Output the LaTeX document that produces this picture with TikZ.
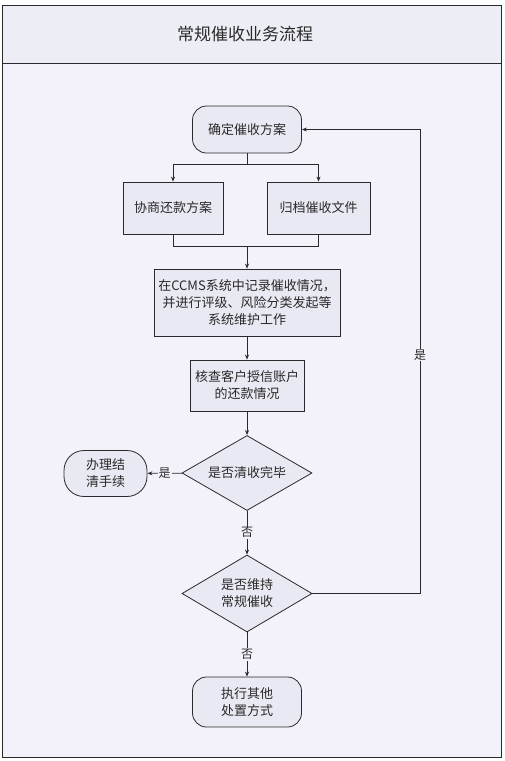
\documentclass[tikz,border=0pt]{standalone}
\usepackage{fontspec}
\newfontfamily\cjk{Noto Sans CJK SC}
\usetikzlibrary{shapes.geometric,arrows.meta}
\definecolor{pagecol}{HTML}{FFFFFF}
\definecolor{bodycol}{HTML}{F3F2FA}
\definecolor{headcol}{HTML}{EDEEF5}
\definecolor{boxcol}{HTML}{E8E9F2}
\definecolor{inkcol}{HTML}{2A2A2A}
\begin{document}
\begin{tikzpicture}[x=1pt, y=-1pt]
  \tikzstyle{process} = [rectangle, draw=inkcol, fill=boxcol, line width = 0.8pt, align=center, text=inkcol, font=\cjk\fontsize{13}{17}\selectfont, inner sep=2pt]
  \tikzstyle{terminal} = [process, rounded corners = 14pt]
  \tikzstyle{decision} = [diamond, aspect=1.75, draw=inkcol, fill=boxcol, line width = 0.8pt, align=center, text=inkcol, font=\cjk\fontsize{13}{17}\selectfont, inner sep=2pt, minimum width = 130pt, minimum height = 75pt]
  \tikzstyle{tag} = [fill=bodycol, inner sep=1pt, text=inkcol, font=\cjk\fontsize{12}{14}\selectfont]
  \tikzstyle{arrow} = [-{Stealth[length=5pt, width=4pt]}, line width = 0.7pt, draw=inkcol]
  \tikzstyle{line} = [-, line width = 0.7pt, draw=inkcol]

  \useasboundingbox (0,0) rectangle (504,761);
  \fill[pagecol] (0,0) rectangle (504,761);
  \draw[fill=bodycol, draw=inkcol, line width = 1pt] (2,5) rectangle (501,757);
  \draw[fill=headcol, draw=inkcol, line width = 1pt] (2,5) rectangle (501,63);
  \node[text=inkcol, font=\cjk\fontsize{17}{20}\selectfont] at (245,34) (title) {常规催收业务流程};

  % nodes
  \node [terminal, minimum width = 109pt, minimum height = 47pt] at (247,129.5) (plan) {确定催收方案};
  \node [process, minimum width = 100pt, minimum height = 52pt] at (173,208) (negotiate) {协商还款方案};
  \node [process, minimum width = 103pt, minimum height = 52pt] at (318.5,208) (archive) {归档催收文件};
  \node [process, minimum width = 186pt, minimum height = 67pt] at (247,302.5) (ccms) {在CCMS系统中记录催收情况，\\并进行评级、风险分类发起等\\系统维护工作};
  \node [process, minimum width = 114pt, minimum height = 51pt] at (247,385.5) (check) {核查客户授信账户\\的还款情况};
  \node [decision] at (247,473) (cleared) {是否清收完毕};
  \node [terminal, rounded corners = 20pt, minimum width = 83pt, minimum height = 46pt] at (105.5,473.5) (settle) {办理结\\清手续};
  \node [decision, minimum height = 77pt] at (247,593.5) (keep) {是否维持\\常规催收};
  \node [terminal, minimum width = 109pt, minimum height = 50pt] at (247,702) (other) {执行其他\\处置方式};

  % junctions
  \coordinate (split) at (247,164);
  \coordinate (merge) at (247,246);
  \coordinate (back) at (420,593.5);

  \draw[line] (plan.south) to (split);
  \draw[arrow] (split) -| (negotiate.north);
  \draw[arrow] (split) -| (archive.north);
  \draw[line] (negotiate.south) |- (merge);
  \draw[line] (archive.south) |- (merge);
  \draw[arrow] (merge) to (ccms.north);
  \draw[arrow] (ccms) to (check);
  \draw[arrow] (check) to (cleared);
  \draw[arrow] (cleared) to node[tag] {是} (settle);
  \draw[arrow] (cleared) to node[tag] {否} (keep);
  \draw[arrow] (keep) to node[tag] {否} (other);
  \draw[line] (keep.east) to (back);
  \draw[arrow] (back) |- node[tag, pos=0.257] {是} (plan.east);
\end{tikzpicture}
\end{document}
